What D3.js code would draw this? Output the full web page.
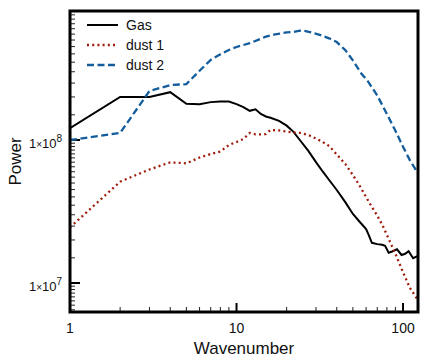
<!DOCTYPE html>
<html>
<head>
<meta charset="utf-8">
<script src="https://cdn.jsdelivr.net/npm/d3@7"></script>
<style>
  body { margin: 0; background: #fff; }
  svg text { font-family: "Liberation Sans", Arial, Helvetica, sans-serif; fill: #111; }
</style>
</head>
<body>
<div id="chart"></div>
<script>
// data
var gasK = [1,2,3,4,5,6,7,8,9,10,11,12,13,14,15,16,18,20,22,24,27,30,33,36,40,45,50,55,60,62,65,70,75,78,82,86,92,98,103,108,115,123];
var gasP = [1.21e8,2.0e8,2.0e8,2.16e8,1.79e8,1.78e8,1.84e8,1.86e8,1.86e8,1.78e8,1.70e8,1.60e8,1.64e8,1.52e8,1.46e8,1.43e8,1.36e8,1.26e8,1.14e8,1.0e8,8.4e7,7.0e7,6.0e7,5.25e7,4.47e7,3.68e7,3.04e7,2.67e7,2.38e7,2.19e7,1.91e7,1.87e7,1.85e7,1.82e7,1.63e7,1.66e7,1.72e7,1.57e7,1.6e7,1.67e7,1.49e7,1.55e7];

var dust1K = [1,2,3,4,5,6,7,8,9,10,11,12,13,14,15,16,18,20,22,24,27,30,33,36,40,45,50,55,60,65,70,75,80,90,100,110,123];
var dust1P = [2.45e7,5.11e7,6.22e7,6.98e7,6.87e7,7.54e7,7.98e7,8.31e7,9.23e7,9.68e7,1.016e8,1.12e8,1.096e8,1.096e8,1.10e8,1.175e8,1.166e8,1.147e8,1.128e8,1.12e8,1.084e8,1.024e8,9.68e7,9.08e7,7.92e7,6.8e7,5.69e7,4.77e7,3.99e7,3.4e7,2.96e7,2.56e7,2.17e7,1.6e7,1.19e7,9.23e6,7.6e6];

var dust2K = [1,2,3,4,5,6,7,8,9,10,12,15,17,20,22,24,26,28,32,36,40,45,50,56,62,70,80,90,100,110,123];
var dust2P = [1.0e8,1.12e8,2.2e8,2.42e8,2.46e8,3.05e8,3.63e8,3.97e8,4.26e8,4.47e8,4.75e8,5.28e8,5.47e8,5.65e8,5.7e8,5.81e8,5.78e8,5.66e8,5.41e8,5.14e8,4.84e8,4.25e8,3.6e8,2.93e8,2.54e8,2.05e8,1.52e8,1.16e8,8.98e7,7.21e7,5.85e7];

var seriesNames = ["Gas", "dust 1", "dust 2"];
var xTickValues = [1, 10, 100];
var xTickLabels = ["1", "10", "100"];
var yTickValues = [1e7, 1e8];
var yTickExps = ["7", "8"];

// setup
var W = 428, H = 362;
var margin = { top: 11, right: 10, bottom: 50, left: 70 };
var w = W - margin.left - margin.right;
var h = H - margin.top - margin.bottom;

var xScale = d3.scaleLog().domain([1, 123]).range([0, w]);
var yScale = d3.scaleLog().domain([6.27e6, 7.98e8]).range([h, 0]);

var svg = d3.select("#chart")
    .append("svg")
    .attr("width", W)
    .attr("height", H)
    .append("g")
    .attr("transform", "translate(" + margin.left + "," + margin.top + ")");

svg.append("clipPath").attr("id", "clip")
    .append("rect").attr("width", w).attr("height", h);

// minor ticks
var xMinor = [];
[1, 10, 100].forEach(function(d) {
    for (var m = 2; m <= 9; m++) if (d * m <= 123) xMinor.push(d * m);
});
var yMinor = [];
[1e6, 1e7, 1e8].forEach(function(d) {
    for (var m = 1.5; m <= 9.5; m += 0.5) {
        var v = d * m;
        if (v > 6.27e6 && v < 7.98e8) yMinor.push(v);
    }
});

svg.selectAll(".xminor").data(xMinor).enter().append("line")
    .attr("x1", function(d) { return xScale(d); })
    .attr("x2", function(d) { return xScale(d); })
    .attr("y1", h).attr("y2", h - 5)
    .style("stroke", "#222").style("stroke-width", 1);

svg.selectAll(".xmajor").data(xTickValues).enter().append("line")
    .attr("x1", function(d) { return xScale(d); })
    .attr("x2", function(d) { return xScale(d); })
    .attr("y1", h).attr("y2", h - 9)
    .style("stroke", "#000").style("stroke-width", 2);

svg.selectAll(".yminor").data(yMinor).enter().append("line")
    .attr("y1", function(d) { return yScale(d); })
    .attr("y2", function(d) { return yScale(d); })
    .attr("x1", 0).attr("x2", 5)
    .style("stroke", "#222").style("stroke-width", 1);

svg.selectAll(".ymajor").data(yTickValues).enter().append("line")
    .attr("y1", function(d) { return yScale(d); })
    .attr("y2", function(d) { return yScale(d); })
    .attr("x1", 0).attr("x2", 10)
    .style("stroke", "#000").style("stroke-width", 2);

// tick labels
svg.selectAll(".xlab").data(xTickValues).enter().append("text")
    .attr("x", function(d) { return xScale(d); })
    .attr("y", h + 21)
    .style("text-anchor", "middle")
    .style("font-size", "14px")
    .text(function(d, i) { return xTickLabels[i]; });

var ylab = svg.selectAll(".ylab").data(yTickValues).enter().append("text")
    .attr("x", -8)
    .attr("y", function(d) { return yScale(d) + 8; })
    .style("text-anchor", "end")
    .style("font-size", "13px");
ylab.append("tspan").text("1");
ylab.append("tspan").style("font-size", "10px").text("×");
ylab.append("tspan").text("10");
ylab.append("tspan").attr("dy", -6).style("font-size", "10px")
    .text(function(d, i) { return yTickExps[i]; });

// axis titles
svg.append("text")
    .attr("x", w / 2)
    .attr("y", h + 42)
    .style("text-anchor", "middle")
    .style("font-size", "17px")
    .text("Wavenumber");

svg.append("text")
    .attr("transform", "translate(" + (-49) + "," + (h / 2) + ") rotate(-90)")
    .style("text-anchor", "middle")
    .style("font-size", "17px")
    .text("Power");

// lines
var line = d3.line()
    .x(function(d) { return xScale(d[0]); })
    .y(function(d) { return yScale(d[1]); });

var series = [
    { name: seriesNames[0], k: gasK, p: gasP, color: "#000", dash: null, width: 2 },
    { name: seriesNames[1], k: dust1K, p: dust1P, color: "#9e1a0a", dash: "2,3.2", width: 2.3 },
    { name: seriesNames[2], k: dust2K, p: dust2P, color: "#135d9c", dash: "7,3.5", width: 2.3 }
];

series.forEach(function(s) {
    svg.append("path")
        .datum(d3.zip(s.k, s.p))
        .attr("clip-path", "url(#clip)")
        .attr("d", line)
        .style("fill", "none")
        .style("stroke", s.color)
        .style("stroke-width", s.width)
        .style("stroke-dasharray", s.dash);
});

// legend
var legend = svg.append("g").attr("transform", "translate(17,14)");
series.forEach(function(s, i) {
    legend.append("line")
        .attr("x1", 0).attr("x2", 31)
        .attr("y1", i * 20).attr("y2", i * 20)
        .style("stroke", s.color)
        .style("stroke-width", s.width)
        .style("stroke-dasharray", s.dash);
    legend.append("text")
        .attr("x", 39)
        .attr("y", i * 20 + 5)
        .style("font-size", "14px")
        .text(s.name);
});

// frame
svg.append("rect")
    .attr("width", w).attr("height", h)
    .style("fill", "none")
    .style("stroke", "#000")
    .style("stroke-width", 3);
</script>
</body>
</html>
